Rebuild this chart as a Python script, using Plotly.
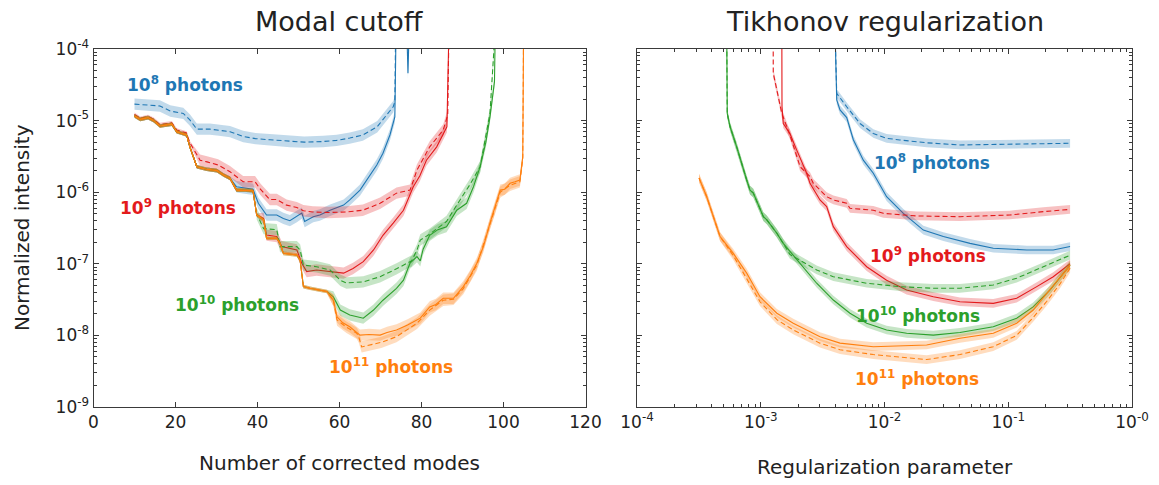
import plotly.graph_objects as go

W, H = 1159, 485

BLUE = "#1f77b4"
RED = "#e31a1c"
GREEN = "#2ca02c"
ORANGE = "#ff7f0e"

# ---------------- Modal cutoff (left panel) ----------------
# early part shared by the solid curves
COMMON_MODES = [10.0, 11.4, 13.3, 14.7, 16.2, 17.7, 19.1, 20.3, 21.7, 22.7, 23.5, 25.2, 27.6, 30.1, 31.7, 33.3]
COMMON_INT = [1.16e-5, 1.04e-5, 1.10e-5, 1.0e-5, 8.4e-6, 8.6e-6, 8.9e-6, 7.0e-6, 6.6e-6, 6.3e-6, 4.3e-6,
              2.27e-6, 2.09e-6, 2.0e-6, 1.74e-6, 1.56e-6]
# continuation shared by 1e9, 1e10, 1e11 solid curves
STEP_MODES = [34.9, 37.4, 38.9, 39.8]
STEP_INT = [1.07e-6, 1.07e-6, 1.05e-6, 4.8e-7]
# continuation shared by 1e10 and 1e11 solid curves
LOW_MODES = [41.5, 42.2, 44.7, 45.5, 46.3, 49.6, 50.4, 51.2, 52.8, 56.9]
LOW_INT = [4.1e-7, 2.27e-7, 2.27e-7, 1.93e-7, 1.40e-7, 1.33e-7, 1.12e-7, 4.8e-8, 4.55e-8, 4.1e-8]

MC8_SOLID_MODES = [34.9, 38.9, 40.2, 42.2, 44.7, 46.3, 47.9, 49.6, 50.8, 51.5, 53.6, 55.2, 57.7, 61.0,
                   62.5, 65.0, 66.6, 69.1, 70.6, 72.3, 73.5, 73.8, 76.4, 76.7, 77.0]
MC8_SOLID_INT = [1.19e-6, 1.10e-6, 7.0e-7, 4.8e-7, 4.8e-7, 4.3e-7, 4.0e-7, 4.55e-7, 5.1e-7, 3.9e-7, 4.55e-7,
                 4.8e-7, 5.6e-7, 6.6e-7, 7.8e-7, 1.07e-6, 1.48e-6, 2.4e-6, 3.5e-6, 6.3e-6, 1.13e-5, 2e-4,
                 2e-4, 4.6e-5, 2e-4]
MC8_DASH_MODES = [10.0, 11.8, 13.7, 16.2, 18.7, 21.9, 23.5, 25.2, 28.4, 30.6, 33.3, 36.5, 39.5, 43.0, 47.9,
                  51.4, 56.0, 59.3, 62.5, 65.7, 69.2, 70.6, 73.1, 73.5, 73.7]
MC8_DASH_INT = [1.7e-5, 1.66e-5, 1.64e-5, 1.6e-5, 1.36e-5, 1.26e-5, 1.02e-5, 7.6e-6, 7.6e-6, 7.4e-6, 7.0e-6,
                6.0e-6, 5.6e-6, 5.4e-6, 5.1e-6, 5.0e-6, 5.1e-6, 5.3e-6, 5.7e-6, 6.3e-6, 8.2e-6, 1.02e-5,
                1.56e-5, 1.84e-5, 2e-4]

MC9_SOLID_MODES = [41.5, 42.2, 44.7, 45.9, 49.6, 50.8, 52.0, 54.4, 57.7, 61.0, 63.3, 65.8, 68.3, 70.6, 73.1,
                   75.6, 78.0, 79.6, 81.2, 83.7, 86.2, 86.7]
MC9_SOLID_INT = [4.3e-7, 2.52e-7, 2.4e-7, 1.74e-7, 1.56e-7, 1.02e-7, 7.8e-8, 8.2e-8, 7.8e-8, 7.4e-8, 8.6e-8,
                 1.07e-7, 1.56e-7, 2.5e-7, 3.7e-7, 5.6e-7, 1.19e-6, 1.7e-6, 2.8e-6, 4.3e-6, 8.2e-6, 2e-4]
MC9_DASH_MODES = [10.0, 11.4, 13.3, 14.7, 16.2, 17.7, 19.1, 20.3, 21.7, 22.7, 23.5, 26.0, 27.7, 30.4, 33.3,
                  36.5, 39.4, 40.7, 43.0, 44.7, 47.1, 49.6, 51.2, 53.5, 57.3, 61.8, 65.7, 69.9, 73.9, 77.2,
                  78.9, 82.0, 85.3, 86.4, 86.7]
MC9_DASH_INT = [1.22e-5, 1.08e-5, 1.14e-5, 1.04e-5, 8.8e-6, 9.0e-6, 9.3e-6, 7.4e-6, 7.0e-6, 6.7e-6, 4.9e-6,
                2.8e-6, 2.65e-6, 2.4e-6, 1.93e-6, 1.4e-6, 1.4e-6, 1.1e-6, 7.9e-7, 7.9e-7, 6.6e-7, 6.1e-7,
                5.5e-7, 5.3e-7, 5.2e-7, 5.3e-7, 5.6e-7, 7.0e-7, 9.7e-7, 1.07e-6, 2.04e-6, 4.3e-6, 7.4e-6,
                1.2e-5, 2e-4]

MC10_SOLID_MODES = [58.5, 60.2, 62.5, 65.8, 68.3, 70.6, 73.9, 75.6, 77.2, 78.9, 79.7, 80.4, 82.0, 84.0, 86.1,
                    88.6, 91.0, 92.7, 94.3, 95.7, 96.7, 97.8, 98.0]
MC10_SOLID_INT = [3.45e-8, 2.26e-8, 1.93e-8, 1.74e-8, 2.26e-8, 3.1e-8, 4.55e-8, 5.9e-8, 1.02e-7, 1.26e-7,
                  1.1e-7, 1.6e-7, 2.5e-7, 3.0e-7, 3.3e-7, 5.6e-7, 7.0e-7, 1.2e-6, 2.27e-6, 5.0e-6, 1.13e-5,
                  3.5e-5, 2e-4]
MC10_DASH_MODES = [39.8, 41.5, 44.7, 45.5, 49.6, 50.4, 51.2, 54.4, 57.7, 60.2, 61.7, 65.8, 69.9, 73.9, 76.4,
                   77.6, 78.9, 79.7, 82.0, 86.1, 89.4, 91.9, 94.3, 96.7, 98.0]
MC10_DASH_INT = [5.0e-7, 3.1e-7, 3.0e-7, 1.74e-7, 1.74e-7, 1.56e-7, 9.6e-8, 9.1e-8, 8.2e-8, 5.9e-8, 5.4e-8,
                 5.6e-8, 6.6e-8, 8.5e-8, 1.02e-7, 1.1e-7, 1.56e-7, 2.15e-7, 2.6e-7, 3.9e-7, 7.8e-7, 1.3e-6,
                 2.27e-6, 1.26e-5, 2e-4]

MC11_SOLID_MODES = [58.5, 59.4, 60.8, 62.5, 65.0, 67.2, 69.9, 71.6, 73.9, 76.6, 79.7, 82.0, 83.5, 85.3, 87.8,
                    90.2, 91.9, 93.5, 95.1, 96.7, 97.9, 99.2, 100.3, 101.6, 102.8, 104.0, 104.7, 104.9]
MC11_SOLID_INT = [3.1e-8, 1.82e-8, 1.5e-8, 1.32e-8, 1.01e-8, 1.03e-8, 1.01e-8, 1.1e-8, 1.19e-8, 1.4e-8,
                  1.74e-8, 2.5e-8, 2.7e-8, 3.3e-8, 3.3e-8, 4.8e-8, 6.8e-8, 1.02e-7, 1.74e-7, 3.7e-7, 6.0e-7,
                  1.07e-6, 1.1e-6, 1.33e-6, 1.4e-6, 1.48e-6, 3.1e-6, 2e-4]
MC11_DASH_MODES = [58.5, 59.4, 61.7, 64.2, 64.7, 65.4, 67.5, 70.2, 73.9, 76.6, 78.9, 82.0, 85.3, 87.8, 90.2,
                   93.5, 96.7, 99.2, 101.6, 104.0, 104.7, 104.9]
MC11_DASH_INT = [3.1e-8, 1.64e-8, 1.3e-8, 1.07e-8, 9.5e-9, 6.9e-9, 7.3e-9, 8.0e-9, 9.6e-9, 1.2e-8, 1.48e-8,
                 2.26e-8, 3.1e-8, 3.2e-8, 4.5e-8, 9.6e-8, 3.5e-7, 1.0e-6, 1.25e-6, 1.4e-6, 3.0e-6, 2e-4]

# ---------------- Tikhonov regularization (right panel) ----------------
TK8_SOLID_REG = [3.98e-3, 4.11e-3, 4.37e-3, 4.95e-3, 5.60e-3, 6.74e-3, 8.12e-3, 1.04e-2, 1.42e-2, 2.06e-2,
                 2.99e-2, 4.91e-2, 7.57e-2, 0.141, 0.231, 0.316]
TK8_SOLID_INT = [2e-4, 1.94e-5, 1.41e-5, 1.10e-5, 5.4e-6, 2.8e-6, 1.84e-6, 8.65e-7, 5.07e-7, 2.96e-7, 2.4e-7,
                 1.93e-7, 1.65e-7, 1.56e-7, 1.56e-7, 1.74e-7]
TK8_DASH_REG = [3.98e-3, 4.11e-3, 4.95e-3, 6.34e-3, 8.12e-3, 1.04e-2, 1.33e-2, 2.19e-2, 4.07e-2, 0.103, 0.316]
TK8_DASH_INT = [2e-4, 2.4e-5, 1.56e-5, 9.1e-6, 6.6e-6, 5.66e-6, 5.37e-6, 4.9e-6, 4.57e-6, 4.7e-6, 4.82e-6]

TK9_SOLID_REG = [1.48e-3, 1.485e-3, 1.52e-3, 1.72e-3, 1.95e-3, 2.35e-3, 2.50e-3, 3.01e-3, 3.41e-3, 3.86e-3,
                 4.95e-3, 7.18e-3, 1.04e-2, 1.51e-2, 2.48e-2, 4.07e-2, 7.57e-2, 0.117, 0.170, 0.231, 0.316]
TK9_SOLID_INT = [2e-4, 1.56e-5, 9.1e-6, 6.6e-6, 3.9e-6, 1.84e-6, 1.33e-6, 7.8e-7, 6.3e-7, 3.3e-7, 1.74e-7,
                 9.1e-8, 5.9e-8, 4.3e-8, 3.47e-8, 2.95e-8, 2.8e-8, 3.3e-8, 4.8e-8, 6.6e-8, 1.0e-7]
TK9_DASH_REG = [1.26e-3, 1.262e-3, 1.48e-3, 1.72e-3, 2.08e-3, 2.50e-3, 2.66e-3, 3.41e-3, 3.86e-3, 4.95e-3,
                5.26e-3, 8.12e-3, 9.77e-3, 1.82e-2, 4.07e-2, 0.103, 0.192, 0.316]
TK9_DASH_INT = [2e-4, 4.6e-5, 1.26e-5, 6.3e-6, 2.27e-6, 1.65e-6, 1.33e-6, 8.65e-7, 7.8e-7, 7.0e-7, 5.96e-7,
                5.6e-7, 5.07e-7, 4.66e-7, 4.55e-7, 4.8e-7, 5.35e-7, 5.75e-7]

TK10_SOLID_REG = [5.31e-4, 5.36e-4, 5.65e-4, 6.39e-4, 7.70e-4, 8.19e-4, 8.71e-4, 1.05e-3, 1.12e-3, 1.35e-3,
                  1.52e-3, 2.08e-3, 2.83e-3, 3.86e-3, 5.26e-3, 7.18e-3, 1.04e-2, 1.51e-2, 2.48e-2, 4.07e-2,
                  7.57e-2, 0.117, 0.159, 0.217, 0.316]
TK10_SOLID_INT = [2e-4, 1.26e-5, 8.2e-6, 4.3e-6, 1.48e-6, 1.07e-6, 9.7e-7, 4.55e-7, 4.1e-7, 2.67e-7, 1.93e-7,
                  1.02e-7, 5.35e-8, 3.12e-8, 2.04e-8, 1.48e-8, 1.19e-8, 1.07e-8, 1.01e-8, 1.1e-8, 1.32e-8,
                  1.74e-8, 2.5e-8, 4.3e-8, 9.6e-8]
TK10_DASH_REG = [5.31e-4, 5.36e-4, 5.65e-4, 6.39e-4, 7.70e-4, 8.19e-4, 8.71e-4, 1.05e-3, 1.12e-3, 1.35e-3,
                 1.52e-3, 1.72e-3, 2.83e-3, 3.86e-3, 7.18e-3, 1.33e-2, 2.48e-2, 4.07e-2, 7.57e-2, 0.117, 0.192,
                 0.316]
TK10_DASH_INT = [2e-4, 1.26e-5, 8.2e-6, 4.3e-6, 1.48e-6, 1.07e-6, 9.7e-7, 4.55e-7, 4.1e-7, 2.67e-7, 1.93e-7,
                 1.35e-7, 8.2e-8, 6.6e-8, 5.35e-8, 4.8e-8, 4.55e-8, 4.55e-8, 5.06e-8, 6.3e-8, 9.1e-8, 1.32e-7]

TK11_SOLID_REG = [3.17e-4, 3.66e-4, 4.14e-4, 4.69e-4, 6.0e-4, 7.70e-4, 9.86e-4, 1.35e-3, 1.83e-3, 3.01e-3,
                  4.37e-3, 8.12e-3, 2.19e-2, 4.07e-2, 7.57e-2, 0.117, 0.159, 0.205, 0.262, 0.316]
TK11_SOLID_INT = [1.58e-6, 8.65e-7, 4.55e-7, 2.4e-7, 1.40e-7, 7.4e-8, 3.47e-8, 2.04e-8, 1.48e-8, 9.6e-9,
                  7.8e-9, 6.95e-9, 7.35e-9, 9.1e-9, 1.07e-8, 1.48e-8, 2.26e-8, 3.87e-8, 6.6e-8, 9.6e-8]
TK11_DASH_REG = [3.17e-4, 3.66e-4, 4.14e-4, 4.69e-4, 6.0e-4, 7.70e-4, 9.86e-4, 1.35e-3, 1.83e-3, 3.01e-3,
                 4.37e-3, 8.12e-3, 2.19e-2, 4.07e-2, 7.57e-2, 0.117, 0.159, 0.205, 0.262, 0.316]
TK11_DASH_INT = [1.58e-6, 8.65e-7, 4.55e-7, 2.4e-7, 1.30e-7, 6.2e-8, 2.95e-8, 1.66e-8, 1.19e-8, 7.8e-9,
                 6.3e-9, 5.4e-9, 4.6e-9, 5.4e-9, 6.95e-9, 1.0e-8, 1.78e-8, 3.0e-8, 5.25e-8, 8.7e-8]

# relative half-width of the shaded uncertainty bands
BAND_EARLY = 1.06   # low-order modes, where all photon counts agree
BAND_LEFT = 1.2
BAND_RIGHT = 1.15

Y_TICKS = [1e-9, 1e-8, 1e-7, 1e-6, 1e-5, 1e-4]
Y_TICK_TEXT = ["10<sup>-9</sup>", "10<sup>-8</sup>", "10<sup>-7</sup>", "10<sup>-6</sup>",
               "10<sup>-5</sup>", "10<sup>-4</sup>"]
X_MODE_TICKS = [0, 20, 40, 60, 80, 100, 120]
X_REG_TICKS = [1e-4, 1e-3, 1e-2, 1e-1, 1e0]
X_REG_TICK_TEXT = ["10<sup>-4</sup>", "10<sup>-3</sup>", "10<sup>-2</sup>", "10<sup>-1</sup>",
                   "10<sup>-0</sup>"]


def rgba(hex_color, a):
    h = hex_color.lstrip("#")
    r, g, b = int(h[0:2], 16), int(h[2:4], 16), int(h[4:6], 16)
    return f"rgba({r},{g},{b},{a})"


fig = go.Figure()


def add_curve(segments, color, dashed, xa, ya):
    """segments: list of (xs, ys, band factor) pieces joined into one curve."""
    xs, ys, upper, lower = [], [], [], []
    for sx, sy, f in segments:
        xs += list(sx)
        ys += list(sy)
        upper += [v * f for v in sy]
        lower += [v / f for v in sy]
    fig.add_trace(go.Scatter(
        x=xs + xs[::-1], y=upper + lower[::-1],
        fill="toself", fillcolor=rgba(color, 0.27), line=dict(width=0),
        mode="lines", hoverinfo="skip", showlegend=False, xaxis=xa, yaxis=ya))
    fig.add_trace(go.Scatter(
        x=xs, y=ys, mode="lines",
        line=dict(color=color, width=1.1, dash="5px,3px" if dashed else "solid"),
        showlegend=False, xaxis=xa, yaxis=ya))


E = BAND_EARLY
L = BAND_LEFT
R = BAND_RIGHT

# left panel
add_curve([(MC8_DASH_MODES, MC8_DASH_INT, L)], BLUE, True, "x", "y")
add_curve([(COMMON_MODES, COMMON_INT, E), (MC8_SOLID_MODES, MC8_SOLID_INT, L)], BLUE, False, "x", "y")
add_curve([(MC9_DASH_MODES[:11], MC9_DASH_INT[:11], E), (MC9_DASH_MODES[11:], MC9_DASH_INT[11:], L)],
          RED, True, "x", "y")
add_curve([(COMMON_MODES, COMMON_INT, E), (STEP_MODES, STEP_INT, E), (MC9_SOLID_MODES, MC9_SOLID_INT, L)],
          RED, False, "x", "y")
add_curve([(COMMON_MODES, COMMON_INT, E), (STEP_MODES, STEP_INT, E), (MC10_DASH_MODES, MC10_DASH_INT, L)],
          GREEN, True, "x", "y")
add_curve([(COMMON_MODES, COMMON_INT, E), (STEP_MODES, STEP_INT, E), (LOW_MODES, LOW_INT, E),
           (MC10_SOLID_MODES, MC10_SOLID_INT, L)], GREEN, False, "x", "y")
add_curve([(COMMON_MODES, COMMON_INT, E), (STEP_MODES, STEP_INT, E), (LOW_MODES, LOW_INT, E),
           (MC11_DASH_MODES, MC11_DASH_INT, L)], ORANGE, True, "x", "y")
add_curve([(COMMON_MODES, COMMON_INT, E), (STEP_MODES, STEP_INT, E), (LOW_MODES, LOW_INT, E),
           (MC11_SOLID_MODES, MC11_SOLID_INT, L)], ORANGE, False, "x", "y")

# right panel
add_curve([(TK8_DASH_REG, TK8_DASH_INT, R)], BLUE, True, "x2", "y2")
add_curve([(TK8_SOLID_REG, TK8_SOLID_INT, R)], BLUE, False, "x2", "y2")
add_curve([(TK9_DASH_REG, TK9_DASH_INT, R)], RED, True, "x2", "y2")
add_curve([(TK9_SOLID_REG, TK9_SOLID_INT, R)], RED, False, "x2", "y2")
add_curve([(TK10_DASH_REG, TK10_DASH_INT, R)], GREEN, True, "x2", "y2")
add_curve([(TK10_SOLID_REG, TK10_SOLID_INT, R)], GREEN, False, "x2", "y2")
add_curve([(TK11_DASH_REG, TK11_DASH_INT, R)], ORANGE, True, "x2", "y2")
add_curve([(TK11_SOLID_REG, TK11_SOLID_INT, R)], ORANGE, False, "x2", "y2")

FONT = "DejaVu Sans"
AX_COLOR = "#3a3a3a"
y_minor = [m * t for t in Y_TICKS[:-1] for m in range(2, 10)]
x_minor = [m * t for t in X_REG_TICKS[:-1] for m in range(2, 10)]

common_axis = dict(showline=True, linecolor=AX_COLOR, linewidth=1, mirror="ticks", ticks="inside",
                   ticklen=5, tickcolor=AX_COLOR, showgrid=False, zeroline=False, automargin=False,
                   tickfont=dict(family=FONT, size=17, color="#222"))


def px_x(p):
    return p / W


def px_y(p):
    return 1 - p / H


LEFT_X0, LEFT_X1 = 93.5, 585.5
RIGHT_X0, RIGHT_X1 = 637, 1132
TOP, BOTTOM = 49, 407

fig.update_layout(
    width=W, height=H, margin=dict(l=0, r=0, t=0, b=0, autoexpand=False),
    paper_bgcolor="white", plot_bgcolor="white",
    xaxis=dict(domain=[px_x(LEFT_X0), px_x(LEFT_X1)], range=[0, 120], tickvals=X_MODE_TICKS, anchor="y",
               **common_axis),
    yaxis=dict(domain=[px_y(BOTTOM), px_y(TOP)], type="log", range=[-9, -4], tickvals=Y_TICKS,
               ticktext=Y_TICK_TEXT, anchor="x",
               minor=dict(tickvals=y_minor, ticks="inside", ticklen=3, tickcolor=AX_COLOR),
               **common_axis),
    xaxis2=dict(domain=[px_x(RIGHT_X0), px_x(RIGHT_X1)], type="log", range=[-4, 0], tickvals=X_REG_TICKS,
                ticktext=X_REG_TICK_TEXT, anchor="y2",
                minor=dict(tickvals=x_minor, ticks="inside", ticklen=3, tickcolor=AX_COLOR),
                **common_axis),
    yaxis2=dict(domain=[px_y(BOTTOM), px_y(TOP)], type="log", range=[-9, -4], tickvals=Y_TICKS,
                showticklabels=False, anchor="x2",
                minor=dict(tickvals=y_minor, ticks="inside", ticklen=3, tickcolor=AX_COLOR),
                **common_axis),
)


def text_at(x, y, txt, size, color="#222", bold=False, angle=0):
    fig.add_annotation(x=px_x(x), y=px_y(y), xref="paper", yref="paper", text=f"<b>{txt}</b>" if bold else txt,
                       showarrow=False, xanchor="center", yanchor="middle", textangle=angle,
                       font=dict(family=FONT, size=size, color=color))


left_mid = (LEFT_X0 + LEFT_X1) / 2
right_mid = (RIGHT_X0 + RIGHT_X1) / 2
text_at(left_mid, 22, "Modal cutoff", 27)
text_at(right_mid, 22, "Tikhonov regularization", 27)
text_at(left_mid, 463, "Number of corrected modes", 20)
text_at(right_mid, 467, "Regularization parameter", 20)
text_at(22, 228, "Normalized intensity", 20, angle=-90)

LABEL_SIZE = 17
text_at(185, 84, "10<sup>8</sup> photons", LABEL_SIZE, BLUE, True)
text_at(178, 207, "10<sup>9</sup> photons", LABEL_SIZE, RED, True)
text_at(237, 304, "10<sup>10</sup> photons", LABEL_SIZE, GREEN, True)
text_at(391, 366, "10<sup>11</sup> photons", LABEL_SIZE, ORANGE, True)
text_at(932, 162, "10<sup>8</sup> photons", LABEL_SIZE, BLUE, True)
text_at(928, 255, "10<sup>9</sup> photons", LABEL_SIZE, RED, True)
text_at(918, 315, "10<sup>10</sup> photons", LABEL_SIZE, GREEN, True)
text_at(917, 378, "10<sup>11</sup> photons", LABEL_SIZE, ORANGE, True)

fig.write_html("out.html")
